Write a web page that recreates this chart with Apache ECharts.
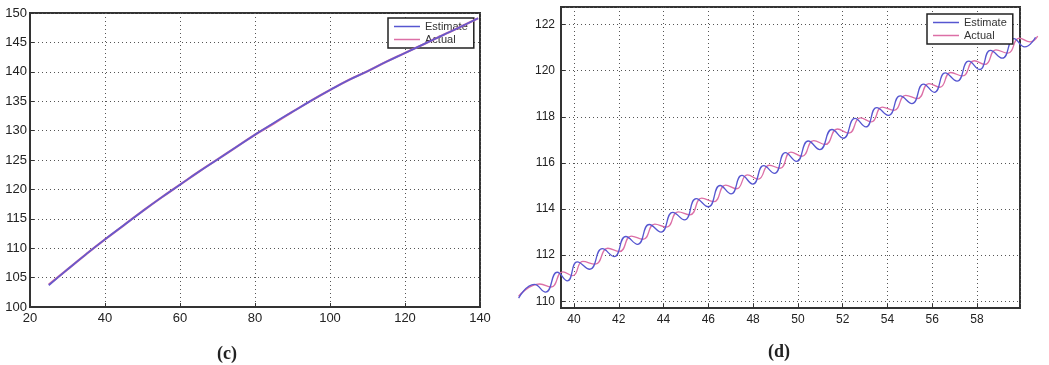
<!DOCTYPE html>
<html>
<head>
<meta charset="utf-8">
<script src="https://cdn.jsdelivr.net/npm/echarts@6/dist/echarts.min.js"></script>
<style>
html,body{margin:0;padding:0;background:#fff;}
#chart{width:1049px;height:365px;}
</style>
</head>
<body>
<div id="chart"></div>
<script>
// ---- Panel (c) ----
var cX = [25, 30, 35, 40, 45, 50, 55, 60, 65, 70, 75, 80, 85, 90, 95, 100, 105, 110, 115, 120, 125, 130, 135, 139.5];
var cEstimate = [103.7, 106.4, 109.0, 111.5, 113.9, 116.3, 118.6, 120.8, 123.0, 125.1, 127.2, 129.3, 131.3, 133.2, 135.1, 136.9, 138.6, 140.1, 141.7, 143.2, 144.7, 146.2, 147.7, 149.1];
var cActual   = [103.8, 106.4, 109.0, 111.5, 113.9, 116.3, 118.6, 120.8, 123.0, 125.1, 127.2, 129.3, 131.2, 133.2, 135.1, 136.9, 138.6, 140.1, 141.7, 143.2, 144.7, 146.2, 147.7, 149.1];

// ---- Panel (d) ----
var dEstX = [37.53, 38.25, 38.77, 39.31, 39.77, 40.23, 40.8, 41.38, 41.92, 42.46, 43.0, 43.54, 44.08, 44.62, 45.16, 45.7, 46.25, 46.8, 47.3, 47.8, 48.3, 48.8, 49.3, 49.8, 50.31, 50.85, 51.38, 51.94, 52.46, 53.0, 53.5, 54.0, 54.54, 55.08, 55.62, 56.15, 56.65, 57.15, 57.69, 58.23, 58.73, 59.23, 59.77, 60.31, 60.8, 61.3];
var dEstimate = [110.14, 110.73, 110.40, 111.26, 110.89, 111.71, 111.39, 112.28, 111.94, 112.81, 112.47, 113.33, 113.00, 113.86, 113.53, 114.45, 114.10, 115.02, 114.66, 115.46, 115.08, 115.88, 115.55, 116.45, 116.07, 116.95, 116.58, 117.45, 117.07, 117.93, 117.56, 118.40, 118.06, 118.91, 118.57, 119.42, 119.06, 119.90, 119.55, 120.41, 120.05, 120.88, 120.54, 121.39, 121.03, 121.45];
var dActX = [37.53, 38.5, 39.02, 39.56, 40.02, 40.48, 41.05, 41.63, 42.17, 42.71, 43.25, 43.79, 44.33, 44.87, 45.41, 45.95, 46.5, 47.05, 47.55, 48.05, 48.55, 49.05, 49.55, 50.05, 50.56, 51.1, 51.63, 52.19, 52.71, 53.25, 53.75, 54.25, 54.79, 55.33, 55.87, 56.4, 56.9, 57.4, 57.94, 58.48, 58.98, 59.48, 60.02, 60.56, 61.05, 61.4];
var dActual = [110.22, 110.75, 110.62, 111.28, 111.11, 111.73, 111.61, 112.30, 112.16, 112.83, 112.69, 113.35, 113.22, 113.88, 113.75, 114.47, 114.32, 115.04, 114.88, 115.48, 115.30, 115.90, 115.77, 116.47, 116.29, 116.97, 116.80, 117.47, 117.29, 117.95, 117.78, 118.42, 118.28, 118.93, 118.79, 119.44, 119.28, 119.92, 119.77, 120.43, 120.27, 120.90, 120.76, 121.41, 121.25, 121.5];

var seriesNames = ['Estimate', 'Actual'];
var captions = ['(c)', '(d)'];

function pairs(xs, ys) { return xs.map(function (x, i) { return [x, ys[i]]; }); }

var ESTC = '#5656d0', ACTC = '#dc6fa6';
var labelFontC = { color: '#222', fontSize: 13, fontFamily: 'Liberation Sans, Arial, sans-serif' };
var labelFontD = { color: '#222', fontSize: 12, fontFamily: 'Liberation Sans, Arial, sans-serif' };
var splitStyle = { show: true, lineStyle: { color: '#555', type: [1, 3], width: 1 } };
var axisLineStyle = { show: true, lineStyle: { color: '#333', width: 2 } };
var tickStyle = { show: true, inside: true, length: 4, lineStyle: { color: '#333' } };

function intOnly(v) { return Math.abs(v - Math.round(v)) < 1e-6 ? String(Math.round(v)) : ''; }

// layout of panel (d)
var dMinX = 39.42, dMaxX = 59.92, dMinY = 109.71, dMaxY = 122.76;
var dLeft = 561, dWidth = 459, dExt = 2; // hidden wider axis so lines run past the frame as in the original
var pxPerUnit = dWidth / (dMaxX - dMinX);

var legendCommon = {
  data: seriesNames, orient: 'vertical', padding: [3, 6, 3, 6], itemGap: 2,
  icon: 'rect', itemWidth: 26, itemHeight: 1.5, borderColor: '#222', borderWidth: 1.5, backgroundColor: '#fff',
  textStyle: { fontSize: 11, color: '#333', fontFamily: 'Liberation Sans, Arial, sans-serif' }
};

var option = {
  animation: false,
  backgroundColor: '#fff',
  title: [
    { text: captions[0], left: 222, top: 340, textAlign: 'center',
      textStyle: { fontFamily: 'Liberation Serif, serif', fontWeight: 'bold', fontSize: 18, color: '#222' } },
    { text: captions[1], left: 774, top: 338, textAlign: 'center',
      textStyle: { fontFamily: 'Liberation Serif, serif', fontWeight: 'bold', fontSize: 18, color: '#222' } }
  ],
  grid: [
    { left: 30, top: 13, width: 450, height: 294, show: true, borderColor: '#333', borderWidth: 2, backgroundColor: '#fff' },
    { left: dLeft, top: 7, width: dWidth, height: 301, show: true, borderColor: '#333', borderWidth: 2, backgroundColor: '#fff' },
    { left: dLeft - dExt * pxPerUnit, top: 7, width: dWidth + 2 * dExt * pxPerUnit, height: 301, show: false }
  ],
  legend: [
    Object.assign({ left: 388, top: 18 }, legendCommon),
    Object.assign({ left: 927, top: 14 }, legendCommon)
  ],
  xAxis: [
    { type: 'value', gridIndex: 0, min: 20, max: 140, interval: 20,
      axisLine: axisLineStyle, axisTick: tickStyle,
      axisLabel: Object.assign({ margin: 5 }, labelFontC), splitLine: splitStyle },
    { type: 'value', gridIndex: 1, min: dMinX, max: dMaxX, splitNumber: 10,
      axisLine: axisLineStyle, axisTick: tickStyle,
      axisLabel: Object.assign({ margin: 6, formatter: intOnly, showMinLabel: false, showMaxLabel: false }, labelFontD),
      splitLine: splitStyle },
    { type: 'value', gridIndex: 2, min: dMinX - dExt, max: dMaxX + dExt, show: false,
      axisLine: { show: false }, axisTick: { show: false }, axisLabel: { show: false }, splitLine: { show: false } }
  ],
  yAxis: [
    { type: 'value', gridIndex: 0, min: 100, max: 150, interval: 5,
      axisLine: axisLineStyle, axisTick: tickStyle,
      axisLabel: Object.assign({ margin: 3 }, labelFontC), splitLine: splitStyle },
    { type: 'value', gridIndex: 1, min: dMinY, max: dMaxY, splitNumber: 6,
      axisLine: axisLineStyle, axisTick: tickStyle,
      axisLabel: Object.assign({ margin: 6, formatter: intOnly, showMinLabel: false, showMaxLabel: false }, labelFontD),
      splitLine: splitStyle },
    { type: 'value', gridIndex: 2, min: dMinY, max: dMaxY, show: false,
      axisLine: { show: false }, axisTick: { show: false }, axisLabel: { show: false }, splitLine: { show: false } }
  ],
  series: [
    { name: 'Actual', type: 'line', xAxisIndex: 0, yAxisIndex: 0, data: pairs(cX, cActual),
      smooth: true, symbol: 'none', clip: false, z: 5, color: ACTC, lineStyle: { width: 2.2, color: ACTC } },
    { name: 'Estimate', type: 'line', xAxisIndex: 0, yAxisIndex: 0, data: pairs(cX, cEstimate),
      smooth: true, symbol: 'none', clip: false, z: 6, color: ESTC, lineStyle: { width: 1.8, color: ESTC, opacity: 0.88 } },
    { name: 'Actual', type: 'line', xAxisIndex: 2, yAxisIndex: 2, data: pairs(dActX, dActual),
      smooth: 0.5, symbol: 'none', clip: false, color: ACTC, lineStyle: { width: 1.3, color: ACTC } },
    { name: 'Estimate', type: 'line', xAxisIndex: 2, yAxisIndex: 2, data: pairs(dEstX, dEstimate),
      smooth: 0.5, symbol: 'none', clip: false, color: ESTC, lineStyle: { width: 1.3, color: ESTC } }
  ]
};

var chart = echarts.init(document.getElementById('chart'), null, { renderer: 'canvas' });
chart.setOption(option);
</script>
</body>
</html>
